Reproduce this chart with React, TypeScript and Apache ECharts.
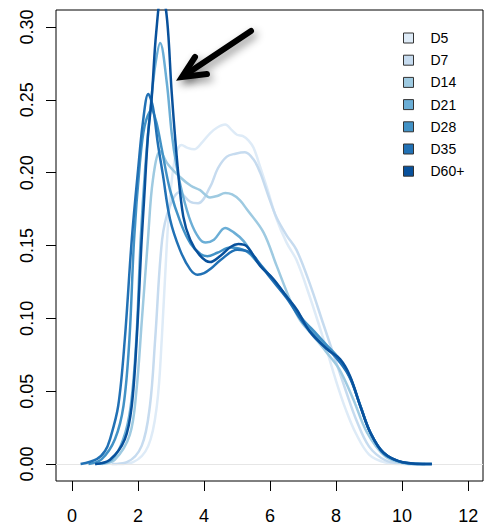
import React, { useEffect, useRef } from "react";
import * as echarts from "echarts";

const seriesNames = ["D5", "D7", "D14", "D21", "D28", "D35", "D60+"];
const seriesColors = ["#DEEBF7", "#C6DBEF", "#9ECAE1", "#6BAED6", "#4292C6", "#2171B5", "#08519C"];

const xTicks = [0, 2, 4, 6, 8, 10, 12];
const yTicks = [0, 0.05, 0.1, 0.15, 0.2, 0.25, 0.3];

const d5X = [1.4, 1.85, 2.31, 2.57, 2.72, 2.87, 3.0, 3.15, 3.32, 3.5, 3.7, 3.95, 4.18, 4.4, 4.64, 4.85, 5.0, 5.18, 5.35, 5.5, 5.7, 5.9, 6.2, 6.5, 6.8, 7.2, 7.6, 8.0, 8.3, 8.6, 9.0, 9.5, 10.0];
const d5Y = [0, 0.0013, 0.0125, 0.04, 0.086, 0.15, 0.19, 0.213, 0.219, 0.217, 0.216, 0.221, 0.227, 0.231, 0.233, 0.229, 0.226, 0.225, 0.222, 0.217, 0.204, 0.19, 0.168, 0.152, 0.14, 0.115, 0.087, 0.057, 0.037, 0.021, 0.0065, 0.001, 0];

const d7X = [1.2, 1.66, 2.11, 2.36, 2.52, 2.73, 2.95, 3.25, 3.58, 3.82, 4.18, 4.42, 4.69, 4.95, 5.24, 5.5, 5.7, 5.95, 6.2, 6.5, 6.8, 7.2, 7.6, 8.0, 8.3, 8.6, 9.0, 9.5, 10.0, 10.4];
const d7Y = [0, 0.0013, 0.0125, 0.04, 0.086, 0.154, 0.176, 0.1865, 0.18, 0.179, 0.19, 0.203, 0.211, 0.213, 0.214, 0.209, 0.2, 0.184, 0.169, 0.157, 0.147, 0.124, 0.097, 0.07, 0.05, 0.031, 0.012, 0.0025, 0.0003, 0];

const d14X = [0.9, 1.3, 1.75, 1.95, 2.12, 2.3, 2.45, 2.67, 2.9, 3.27, 3.6, 3.88, 4.18, 4.4, 4.64, 4.85, 5.09, 5.29, 5.8, 6.2, 6.6, 6.9, 7.3, 7.7, 8.1, 8.52, 8.93, 9.48, 10.0, 10.5];
const d14Y = [0, 0.003, 0.02, 0.05, 0.1, 0.154, 0.195, 0.2146, 0.206, 0.197, 0.191, 0.188, 0.183, 0.184, 0.186, 0.185, 0.181, 0.175, 0.159, 0.136, 0.113, 0.099, 0.088, 0.077, 0.065, 0.0445, 0.022, 0.0055, 0.0008, 0];

const d21X = [0.7, 1.2, 1.55, 1.78, 1.95, 2.08, 2.22, 2.4, 2.53, 2.67, 2.87, 3.02, 3.17, 3.35, 3.6, 3.85, 4.05, 4.3, 4.64, 4.9, 5.2, 5.5, 6.0, 6.5, 7.0, 7.5, 8.0, 8.4, 8.73, 9.03, 9.43, 10.0, 10.7];
const d21Y = [0, 0.003, 0.017, 0.04, 0.086, 0.154, 0.204, 0.25, 0.275, 0.289, 0.262, 0.227, 0.204, 0.185, 0.166, 0.155, 0.152, 0.154, 0.162, 0.159, 0.153, 0.143, 0.129, 0.115, 0.098, 0.086, 0.074, 0.061, 0.04, 0.022, 0.008, 0.0013, 0];

const d28X = [0.5, 0.9, 1.3, 1.56, 1.74, 1.88, 2.05, 2.2, 2.41, 2.55, 2.72, 2.97, 3.3, 3.6, 3.9, 4.1, 4.4, 4.79, 5.29, 5.6, 6.0, 6.5, 7.0, 7.3, 7.7, 8.1, 8.45, 8.75, 9.05, 9.45, 10.0, 10.9];
const d28Y = [0, 0.0034, 0.017, 0.04, 0.086, 0.154, 0.205, 0.232, 0.243, 0.235, 0.216, 0.188, 0.165, 0.151, 0.144, 0.1427, 0.145, 0.1486, 0.146, 0.139, 0.129, 0.115, 0.099, 0.092, 0.082, 0.072, 0.058, 0.039, 0.021, 0.0075, 0.0013, 0];

const d35X = [0.26, 0.75, 1.0, 1.15, 1.4, 1.6, 1.81, 2.01, 2.15, 2.31, 2.45, 2.6, 2.75, 2.97, 3.27, 3.58, 3.8, 4.0, 4.2, 4.5, 5.0, 5.4, 5.7, 6.0, 6.5, 7.0, 7.5, 8.0, 8.4, 8.75, 9.05, 9.45, 10.0, 10.5, 10.9];
const d35Y = [0, 0.0034, 0.009, 0.017, 0.04, 0.086, 0.154, 0.204, 0.235, 0.254, 0.245, 0.22, 0.199, 0.168, 0.147, 0.1336, 0.13, 0.131, 0.134, 0.14, 0.147, 0.145, 0.137, 0.128, 0.114, 0.097, 0.084, 0.073, 0.06, 0.039, 0.021, 0.007, 0.0012, 0.0001, 0];

const d60X = [0.7, 1.15, 1.6, 1.81, 1.96, 2.11, 2.18, 2.3, 2.41, 2.55, 2.72, 2.88, 3.02, 3.2, 3.37, 3.58, 3.88, 4.18, 4.5, 4.8, 5.04, 5.29, 5.7, 6.1, 6.5, 6.81, 7.2, 7.72, 8.12, 8.42, 8.73, 9.03, 9.43, 10.03, 10.9];
const d60Y = [0, 0.003, 0.017, 0.04, 0.086, 0.154, 0.18, 0.225, 0.25, 0.296, 0.325, 0.305, 0.255, 0.204, 0.17, 0.154, 0.143, 0.1386, 0.143, 0.149, 0.151, 0.1495, 0.136, 0.127, 0.115, 0.106, 0.091, 0.079, 0.072, 0.0605, 0.04, 0.022, 0.008, 0.0013, 0];

const seriesX = [d5X, d7X, d14X, d21X, d28X, d35X, d60X];
const seriesY = [d5Y, d7Y, d14Y, d21Y, d28Y, d35Y, d60Y];

const FONT = "'Liberation Sans', Arial, Helvetica, sans-serif";

export default function App() {
  const ref = useRef<HTMLDivElement>(null);
  useEffect(() => {
    if (!ref.current) return;
    const chart = echarts.init(ref.current, null, { renderer: "svg" });
    const shadow = {
      shadowBlur: 8,
      shadowColor: "rgba(0,0,0,0.45)",
      shadowOffsetX: 3,
      shadowOffsetY: 4,
    };
    const lineSeries = seriesNames.map((name, i) => ({
      name,
      type: "line",
      data: seriesX[i].map((x, j) => [x, seriesY[i][j]]),
      smooth: 0.35,
      showSymbol: false,
      symbol: "none",
      clip: true,
      color: seriesColors[i],
      lineStyle: { color: seriesColors[i], width: 2.5 },
      emphasis: { disabled: true },
      z: 3 + i,
    }));
    chart.setOption({
      animation: false,
      textStyle: { fontFamily: FONT },
      grid: {
        left: 56,
        right: 2,
        top: 10,
        bottom: 43,
        show: true,
        borderColor: "#000",
        borderWidth: 1,
        backgroundColor: "transparent",
      },
      xAxis: {
        type: "value",
        min: -0.485,
        max: 12.45,
        axisLine: { show: false, onZero: false },
        splitLine: { show: false },
        axisTick: {
          show: true,
          customValues: xTicks,
          length: 10,
          inside: false,
          lineStyle: { color: "#000", width: 1 },
        },
        axisLabel: {
          customValues: xTicks,
          fontSize: 18,
          color: "#000",
          margin: 26,
          fontFamily: FONT,
        },
      },
      yAxis: {
        type: "value",
        min: -0.0116,
        max: 0.3116,
        axisLine: { show: false, onZero: false },
        splitLine: { show: false },
        axisTick: {
          show: true,
          customValues: yTicks,
          length: 10,
          inside: false,
          lineStyle: { color: "#000", width: 1 },
        },
        axisLabel: {
          customValues: yTicks,
          rotate: 90,
          fontSize: 18,
          color: "#000",
          margin: 20,
          fontFamily: FONT,
          formatter: (v: number) => v.toFixed(2),
        },
      },
      legend: {
        data: seriesNames,
        orient: "vertical",
        left: 398,
        top: 26,
        icon: "rect",
        itemWidth: 10,
        itemHeight: 10,
        itemGap: 8.2,
        itemStyle: { borderColor: "#333", borderWidth: 1 },
        textStyle: {
          fontSize: 14,
          color: "#000",
          lineHeight: 14,
          padding: [0, 0, 0, 12],
          fontFamily: FONT,
        },
        selectedMode: false,
      },
      graphic: [
        {
          type: "line",
          shape: { x1: 251, y1: 31, x2: 185, y2: 75 },
          style: { stroke: "#000", lineWidth: 6, lineCap: "round", ...shadow },
          z: 100,
        },
        {
          type: "polyline",
          shape: { points: [[195, 57], [182, 77], [207, 74]] },
          style: { stroke: "#000", fill: null, lineWidth: 6, lineCap: "round", lineJoin: "miter", ...shadow },
          z: 100,
        },
      ],
      series: [
        {
          name: "zero",
          type: "line",
          data: [[0, 0]],
          showSymbol: false,
          symbol: "none",
          lineStyle: { opacity: 0 },
          z: 1,
          markLine: {
            silent: true,
            symbol: "none",
            label: { show: false },
            lineStyle: { color: "#e6e6e6", width: 1, type: "solid" },
            data: [{ yAxis: 0 }],
          },
        },
        ...lineSeries,
      ],
    });
    return () => chart.dispose();
  }, []);
  return (
    <div
      ref={ref}
      style={{ position: "fixed", left: 0, top: 0, width: 485, height: 525, background: "#fff" }}
    />
  );
}
